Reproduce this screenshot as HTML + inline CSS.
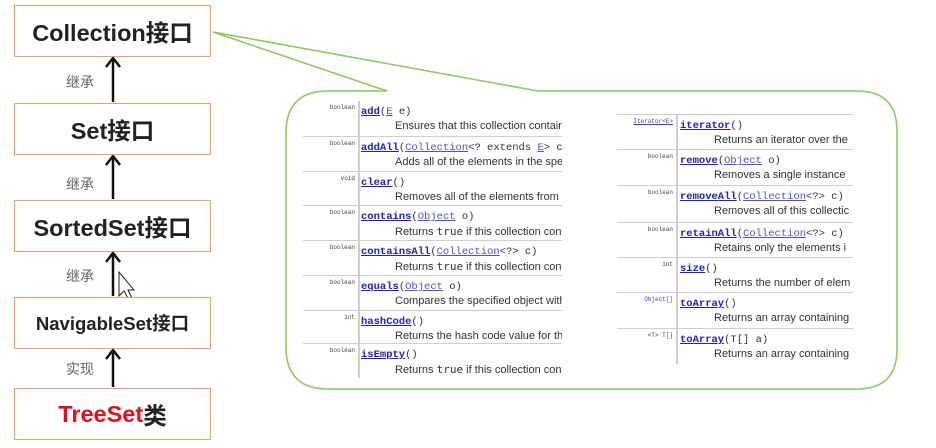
<!DOCTYPE html>
<html><head><meta charset="utf-8"><style>
body{margin:0;width:936px;height:448px;background:#fff;position:relative;overflow:hidden;font-family:"Liberation Sans","Noto Sans CJK SC",sans-serif}
.box{position:absolute;left:14px;width:197px;border:1.5px solid #e8a27a;background:#fff;display:flex;align-items:center;justify-content:center;font-weight:bold;color:#222;box-sizing:border-box}
.lbl{position:absolute;left:66px;font-size:14px;color:#666}
.t{position:absolute;overflow:hidden;font-family:"Liberation Sans",sans-serif}
.row{position:absolute;left:0;right:0;height:35px;border-top:1.5px solid #d0d0c8}
.ty{position:absolute;top:3px;text-align:right;font-size:6px;color:#444;font-family:"Liberation Mono",monospace}
.m{position:absolute;top:5px;font-size:10.5px;white-space:nowrap;font-family:"Liberation Mono",monospace;color:#333}
.m b{color:#2020c8;text-decoration:underline}
.m a{color:#5050d0;text-decoration:underline}
.d{position:absolute;top:19px;font-size:11px;white-space:nowrap;color:#333}
.vl{position:absolute;top:0;bottom:0;width:1.5px;background:#d0d0c8}
</style></head><body>
<svg width="936" height="448" style="position:absolute;left:0;top:0">
<path d="M387 91 L213 32 L538 91 L857 91 Q897 91 897 131 L897 349 Q897 389 857 389 L328 389 Q286 389 286 347 L286 133 Q286 91 328 91 Z" fill="#fff" stroke="#8cc85a" stroke-width="1.5"/>
<g stroke="#111" stroke-width="2.5" fill="none">
<line x1="113" y1="102" x2="113" y2="58"/><path d="M106 67 L113 58 L120 67"/>
<line x1="113" y1="199" x2="113" y2="156"/><path d="M106 165 L113 156 L120 165"/>
<line x1="113" y1="296" x2="113" y2="253"/><path d="M106 262 L113 253 L120 262"/>
<line x1="113" y1="387" x2="113" y2="350"/><path d="M106 359 L113 350 L120 359"/>
</g>
<path d="M119 272 L119 296 L124 291 L129 300 L132 298 L128 290 L134 290 Z" fill="#fff" stroke="#222" stroke-width="1"/>
</svg>
<div class="box" style="top:5px;height:52px;font-size:23.5px">Collection接口</div>
<div class="lbl" style="top:72px">继承</div>
<div class="box" style="top:103px;height:52px;font-size:23.5px">Set接口</div>
<div class="lbl" style="top:174px">继承</div>
<div class="box" style="top:200px;height:52px;font-size:23.5px">SortedSet接口</div>
<div class="lbl" style="top:266px">继承</div>
<div class="box" style="top:297px;height:52px;font-size:18.5px">NavigableSet接口</div>
<div class="lbl" style="top:359px">实现</div>
<div class="box" style="top:388px;height:52px;font-size:23.5px"><span style="color:#e0101e">TreeSet</span>类</div>

<div class="t" style="left:303px;top:101px;width:259px;height:277px">
<div class="vl" style="left:55px"></div>
<div class="row" style="top:0;border-top:none"><div class="ty" style="left:0;width:52px">boolean</div><div class="m" style="left:58px"><b>add</b>(<a>E</a> e)</div><div class="d" style="left:92px">Ensures that this collection contains</div></div>
<div class="row" style="top:35px"><div class="ty" style="left:0;width:52px">boolean</div><div class="m" style="left:58px"><b>addAll</b>(<a>Collection</a>&lt;? extends <a>E</a>&gt; c)</div><div class="d" style="left:92px">Adds all of the elements in the spe</div></div>
<div class="row" style="top:70px"><div class="ty" style="left:0;width:52px">void</div><div class="m" style="left:58px"><b>clear</b>()</div><div class="d" style="left:92px">Removes all of the elements from t</div></div>
<div class="row" style="top:104px"><div class="ty" style="left:0;width:52px">boolean</div><div class="m" style="left:58px"><b>contains</b>(<a>Object</a> o)</div><div class="d" style="left:92px">Returns <tt>true</tt> if this collection cont</div></div>
<div class="row" style="top:139px"><div class="ty" style="left:0;width:52px">boolean</div><div class="m" style="left:58px"><b>containsAll</b>(<a>Collection</a>&lt;?&gt; c)</div><div class="d" style="left:92px">Returns <tt>true</tt> if this collection cont</div></div>
<div class="row" style="top:174px"><div class="ty" style="left:0;width:52px">boolean</div><div class="m" style="left:58px"><b>equals</b>(<a>Object</a> o)</div><div class="d" style="left:92px">Compares the specified object with</div></div>
<div class="row" style="top:209px"><div class="ty" style="left:0;width:52px">int</div><div class="m" style="left:58px"><b>hashCode</b>()</div><div class="d" style="left:92px">Returns the hash code value for thi</div></div>
<div class="row" style="top:242px"><div class="ty" style="left:0;width:52px">boolean</div><div class="m" style="left:58px"><b>isEmpty</b>()</div><div class="d" style="left:92px">Returns <tt>true</tt> if this collection cont</div></div>
</div>

<div class="t" style="left:617px;top:114px;width:236px;height:250px">
<div class="vl" style="left:59px"></div>
<div class="row" style="top:0"><div class="ty" style="left:0;width:56px;color:#4040c0;text-decoration:underline">Iterator&lt;E&gt;</div><div class="m" style="left:63px"><b>iterator</b>()</div><div class="d" style="left:97px">Returns an iterator over the</div></div>
<div class="row" style="top:35px"><div class="ty" style="left:0;width:56px">boolean</div><div class="m" style="left:63px"><b>remove</b>(<a>Object</a> o)</div><div class="d" style="left:97px">Removes a single instance</div></div>
<div class="row" style="top:71px"><div class="ty" style="left:0;width:56px">boolean</div><div class="m" style="left:63px"><b>removeAll</b>(<a>Collection</a>&lt;?&gt; c)</div><div class="d" style="left:97px">Removes all of this collectic</div></div>
<div class="row" style="top:108px"><div class="ty" style="left:0;width:56px">boolean</div><div class="m" style="left:63px"><b>retainAll</b>(<a>Collection</a>&lt;?&gt; c)</div><div class="d" style="left:97px">Retains only the elements i</div></div>
<div class="row" style="top:143px"><div class="ty" style="left:0;width:56px">int</div><div class="m" style="left:63px"><b>size</b>()</div><div class="d" style="left:97px">Returns the number of elem</div></div>
<div class="row" style="top:178px"><div class="ty" style="left:0;width:56px;color:#4040c0">Object[]</div><div class="m" style="left:63px"><b>toArray</b>()</div><div class="d" style="left:97px">Returns an array containing</div></div>
<div class="row" style="top:214px;border-bottom:1.5px solid #d0d0c8"><div class="ty" style="left:0;width:56px">&lt;T&gt; T[]</div><div class="m" style="left:63px"><b>toArray</b>(T[] a)</div><div class="d" style="left:97px">Returns an array containing</div></div>
</div>
</body></html>
